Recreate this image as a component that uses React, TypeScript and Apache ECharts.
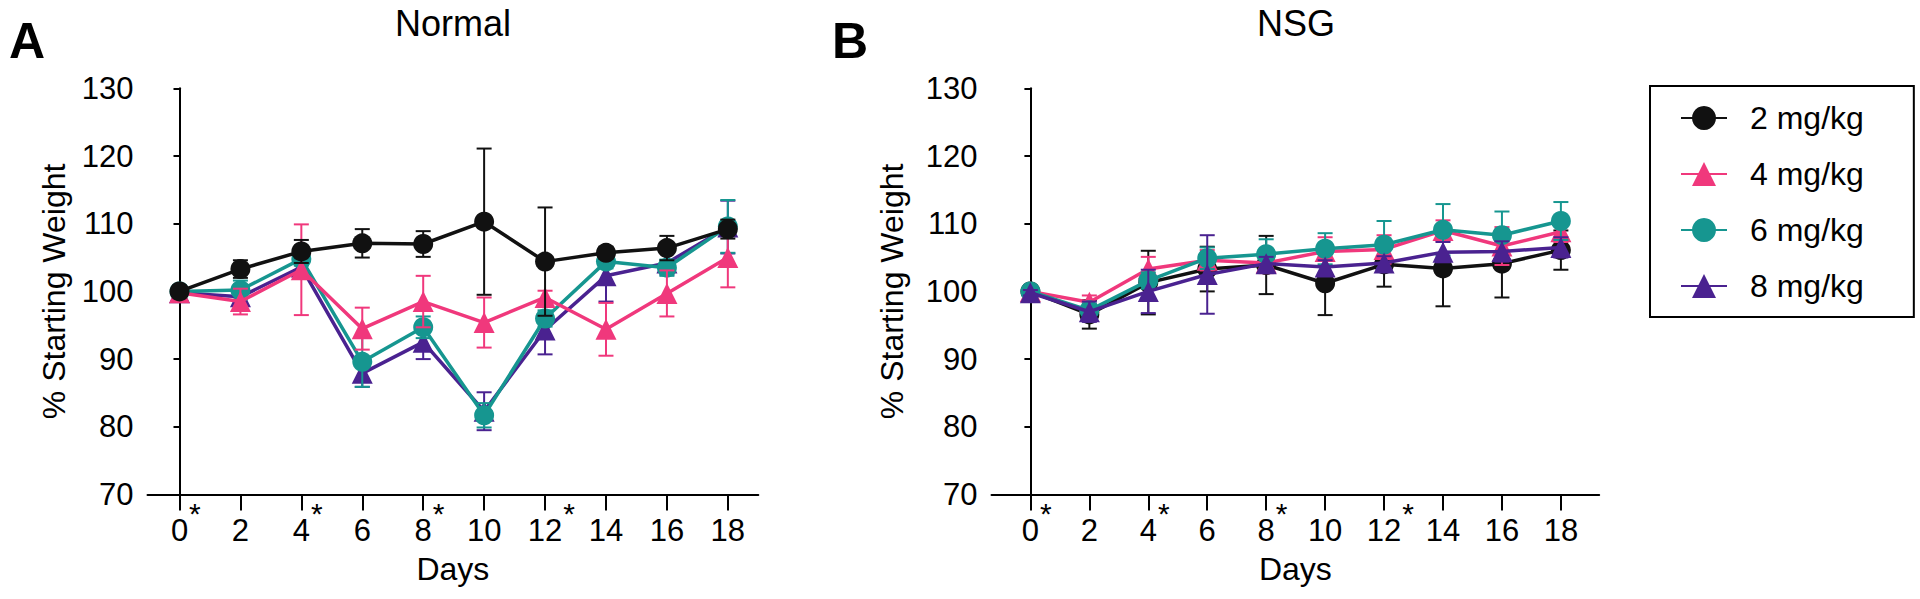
import React, { useEffect, useRef } from "react";
import * as echarts from "echarts";

const FONT = "'Liberation Sans', Arial, Helvetica, sans-serif";

const days = [0, 2, 4, 6, 8, 10, 12, 14, 16, 18];
const starredDays = [0, 4, 8, 12];
const yTicks = [70, 130, 10]; // min, max, step

const seriesNames = ["2 mg/kg", "4 mg/kg", "6 mg/kg", "8 mg/kg"];
const seriesColors = ["#111111", "#F0387C", "#169690", "#4A2290"];
const seriesSymbols = ["circle", "triangle", "circle", "triangle"];

// Panel A: Normal
const normal2 = [100.0, 103.3, 105.9, 107.1, 107.0, 110.3, 104.4, 105.7, 106.4, 109.2];
const normal2Err = [0.6, 1.3, 1.7, 2.1, 1.9, 10.8, 8.0, 0.9, 1.8, 1.4];
const normal4 = [99.8, 98.5, 103.2, 94.5, 98.5, 95.4, 99.1, 94.4, 99.7, 105.0];
const normal4Err = [0.5, 1.9, 6.7, 3.1, 3.8, 3.7, 1.0, 3.9, 3.4, 4.4];
const normal6 = [100.0, 100.2, 104.8, 89.6, 94.7, 81.7, 96.0, 104.4, 103.5, 109.6];
const normal6Err = [0.4, 1.4, 1.0, 3.7, 1.6, 1.8, 1.2, 1.0, 1.2, 3.9];
const normal8 = [99.8, 99.2, 103.6, 87.9, 92.5, 82.3, 94.3, 102.3, 104.2, 109.5];
const normal8Err = [0.4, 1.0, 1.0, 2.0, 2.5, 2.8, 3.6, 3.8, 1.7, 3.9];

// Panel B: NSG
const nsg2 = [100.0, 96.6, 101.3, 103.3, 103.9, 101.2, 104.0, 103.4, 104.1, 106.1];
const nsg2Err = [0.4, 2.1, 4.7, 3.3, 4.3, 4.7, 3.3, 5.6, 5.0, 2.9];
const nsg4 = [100.0, 98.4, 103.3, 104.6, 104.2, 105.9, 106.2, 109.0, 106.7, 108.8];
const nsg4Err = [0.4, 1.0, 1.8, 1.5, 1.5, 2.1, 2.1, 1.5, 2.8, 1.5];
const nsg6 = [100.0, 97.2, 101.6, 104.9, 105.5, 106.3, 106.9, 109.1, 108.3, 110.4];
const nsg6Err = [0.4, 1.0, 1.2, 1.6, 2.2, 2.3, 3.5, 3.8, 3.5, 2.8];
const nsg8 = [99.8, 97.0, 100.0, 102.5, 104.1, 103.6, 104.2, 105.8, 105.9, 106.5];
const nsg8Err = [0.4, 1.5, 3.2, 5.8, 1.0, 1.0, 1.0, 1.5, 1.5, 1.5];

const panels = [
  {
    title: "Normal",
    letter: "A",
    means: [normal2, normal4, normal6, normal8],
    errs: [normal2Err, normal4Err, normal6Err, normal8Err],
    zOrder: [4, 3, 2, 1],
    grid: { left: 147.5, top: 88.3, width: 610.8, height: 406.2 },
    xMin: -1.05,
    xMax: 19,
    nameGap: 78,
    titleX: 453,
    letterX: 9,
  },
  {
    title: "NSG",
    letter: "B",
    means: [nsg2, nsg4, nsg6, nsg8],
    errs: [nsg2Err, nsg4Err, nsg6Err, nsg8Err],
    zOrder: [1, 2, 3, 4],
    grid: { left: 991.5, top: 88.3, width: 607.7, height: 406.2 },
    xMin: -1.32,
    xMax: 19.3,
    nameGap: 84,
    titleX: 1296,
    letterX: 832,
  },
];

function buildOption() {
  const grids: any[] = [];
  const xAxes: any[] = [];
  const yAxes: any[] = [];
  const series: any[] = [];
  const graphics: any[] = [];

  panels.forEach((p, pi) => {
    grids.push({ ...p.grid, containLabel: false });
    xAxes.push({
      type: "value",
      gridIndex: pi,
      min: p.xMin,
      max: p.xMax,
      name: "Days",
      nameLocation: "middle",
      nameGap: 58,
      nameTextStyle: { fontSize: 32, color: "#000", fontFamily: FONT },
      axisLine: { show: true, onZero: false, lineStyle: { color: "#000", width: 2 } },
      axisTick: { show: true, customValues: days, length: 16, lineStyle: { color: "#000", width: 2 } },
      splitLine: { show: false },
      axisLabel: {
        customValues: days,
        interval: 0,
        margin: 4,
        formatter: (v: number) =>
          starredDays.includes(v) ? `{p|}{v|${v}}{s|*}` : `{v|${v}}`,
        rich: {
          v: { fontSize: 31, lineHeight: 64, color: "#000", fontFamily: FONT },
          s: {
            fontSize: 30,
            lineHeight: 44,
            verticalAlign: "top",
            padding: [0, 0, 0, 1],
            color: "#000",
            fontFamily: FONT,
          },
          p: { width: 12.7, lineHeight: 28 },
        },
      },
    });
    yAxes.push({
      type: "value",
      gridIndex: pi,
      min: yTicks[0],
      max: yTicks[1],
      interval: yTicks[2],
      name: "% Starting Weight",
      nameLocation: "middle",
      nameGap: p.nameGap,
      nameTextStyle: { fontSize: 32, color: "#000", fontFamily: FONT },
      axisLine: { show: true, lineStyle: { color: "#000", width: 2 } },
      axisTick: { show: true, length: 6, lineStyle: { color: "#000", width: 2 } },
      splitLine: { show: false },
      axisLabel: { fontSize: 31, color: "#000", margin: 14, fontFamily: FONT },
    });

    seriesNames.forEach((name, si) => {
      const color = seriesColors[si];
      const z = p.zOrder[si] * 2 + 2;
      series.push({
        type: "line",
        name,
        xAxisIndex: pi,
        yAxisIndex: pi,
        data: days.map((d, i) => [d, p.means[si][i]]),
        symbol: seriesSymbols[si],
        symbolSize: seriesSymbols[si] === "triangle" ? 21 : 20,
        showSymbol: true,
        lineStyle: { color, width: 3.5 },
        itemStyle: { color },
        z,
        clip: false,
      });
      series.push({
        type: "custom",
        name: name + " SEM",
        xAxisIndex: pi,
        yAxisIndex: pi,
        z: z - 1,
        data: days.map((d, i) => [
          d,
          p.means[si][i] - p.errs[si][i],
          p.means[si][i] + p.errs[si][i],
        ]),
        encode: { x: 0, y: [1, 2] },
        renderItem: (params: any, api: any) => {
          const x = api.value(0);
          const lo = api.coord([x, api.value(1)]);
          const hi = api.coord([x, api.value(2)]);
          const hw = 7.5;
          const style = { stroke: color, lineWidth: 2, fill: "none" };
          return {
            type: "group",
            children: [
              { type: "line", shape: { x1: lo[0], y1: lo[1], x2: hi[0], y2: hi[1] }, style },
              { type: "line", shape: { x1: hi[0] - hw, y1: hi[1], x2: hi[0] + hw, y2: hi[1] }, style },
              { type: "line", shape: { x1: lo[0] - hw, y1: lo[1], x2: lo[0] + hw, y2: lo[1] }, style },
            ],
          };
        },
      });
    });

    graphics.push({
      type: "text",
      x: p.titleX,
      y: 23,
      style: {
        text: p.title,
        font: `36px ${FONT}`,
        fill: "#000",
        align: "center",
        verticalAlign: "middle",
      },
    });
    graphics.push({
      type: "text",
      x: p.letterX,
      y: 41,
      style: {
        text: p.letter,
        font: `bold 50px ${FONT}`,
        fill: "#000",
        align: "left",
        verticalAlign: "middle",
      },
    });
  });

  return {
    animation: false,
    backgroundColor: "#fff",
    grid: grids,
    xAxis: xAxes,
    yAxis: yAxes,
    series,
    graphic: graphics,
    legend: {
      data: seriesNames,
      orient: "vertical",
      left: 1650,
      top: 86,
      itemWidth: 46,
      itemHeight: 30,
      itemGap: 20,
      padding: [14, 50, 13, 30],
      borderColor: "#000",
      borderWidth: 2,
      borderRadius: 0,
      selectedMode: false,
      textStyle: { fontSize: 32, color: "#000", fontFamily: FONT, lineHeight: 36, padding: [0, 0, 0, 18] },
    },
  };
}

export default function App() {
  const ref = useRef<HTMLDivElement>(null);
  useEffect(() => {
    document.body.style.margin = "0";
    if (!ref.current) return;
    const chart = echarts.init(ref.current, undefined, { renderer: "svg" });
    chart.setOption(buildOption() as any);
    return () => chart.dispose();
  }, []);
  return <div ref={ref} style={{ width: 1920, height: 599 }} />;
}
